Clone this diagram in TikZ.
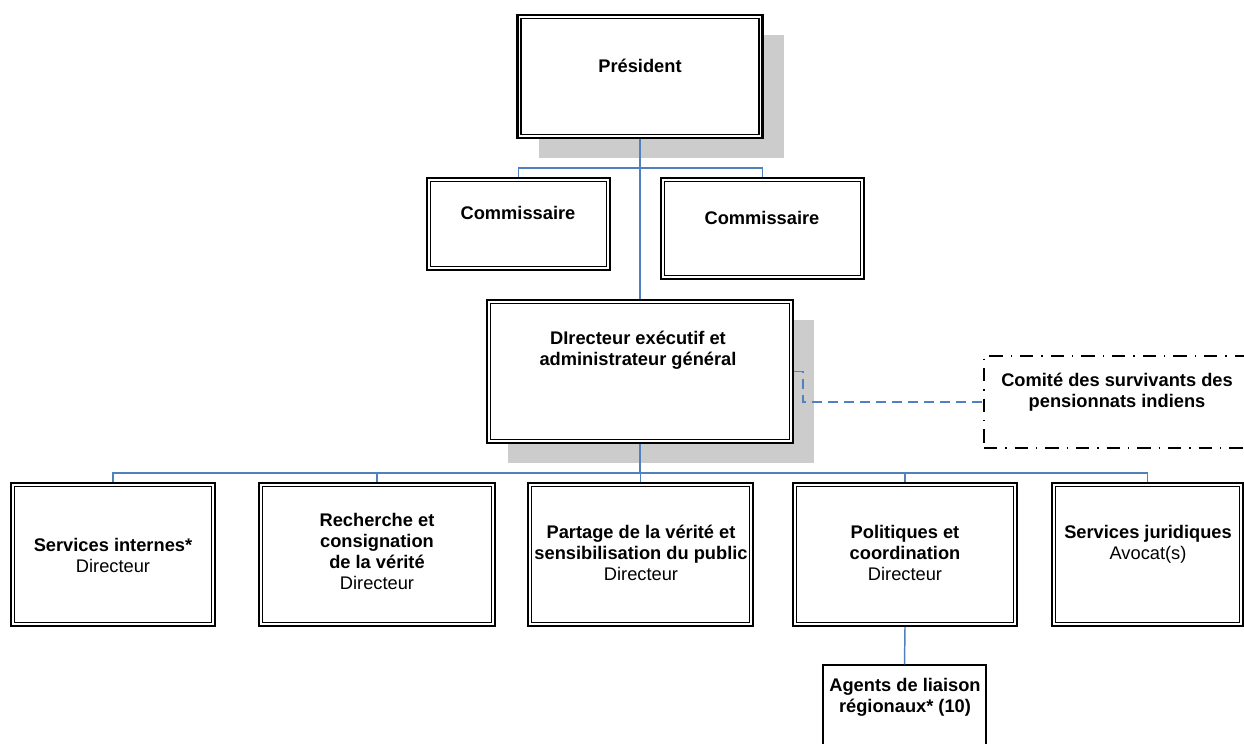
\documentclass[tikz,border=0pt]{standalone}
\usepackage{fontspec}
\setmainfont{Liberation Sans}
\definecolor{linkblue}{RGB}{79,129,189}
\definecolor{shade}{RGB}{204,204,204}
\begin{document}
\begin{tikzpicture}[x=0.75pt,y=-0.75pt,
  sz/.style 2 args={minimum width=#1*0.75pt, minimum height=#2*0.75pt},
  dbox/.style={draw=black, line width=1.6pt, fill=white, inner sep=0pt},
  innerline/.style={draw=black, line width=0.9pt},
  sbox/.style={draw=black, line width=0.9pt, fill=white, inner sep=0pt},
  ddbox/.style={draw=black, line width=0.8pt, inner sep=0pt, dash pattern=on 10pt off 6pt on 1pt off 6pt},
  shadowbox/.style={fill=shade, draw=none, inner sep=0pt},
  txt/.style={anchor=base, align=center, inner sep=0pt, font=\fontsize{13.7pt}{15.8pt}\selectfont},
  link/.style={draw=linkblue, line width=1.1pt},
  dlink/.style={draw=linkblue, line width=1.1pt, dash pattern=on 8pt off 4pt}
]
\clip (0,0) rectangle (1244,743);
\fill[white] (0,0) rectangle (1244,743);

% shadows
\node[shadowbox, sz={245}{123}] (presS) at (661,96.5) {};
\node[shadowbox, sz={306}{143}] (dirS) at (661,391.5) {};

\coordinate (bus1) at (640,168);
\coordinate (bus2) at (640,473);

% boxes
\node[dbox, sz={245}{123}] (pres) at (640,76.5) {};
\node[dbox, sz={183}{92}] (commL) at (518.5,224) {};
\node[dbox, sz={203}{101}] (commR) at (762.5,228.5) {};
\node[dbox, sz={306}{143}] (dir) at (640,371.5) {};
\node[ddbox, sz={270}{92}] (comite) at (1119,402) {};
\node[dbox, sz={204}{143}] (b1) at (113,554.5) {};
\node[dbox, sz={236}{143}] (b2) at (377,554.5) {};
\node[dbox, sz={225}{143}] (b3) at (640.5,554.5) {};
\node[dbox, sz={224}{143}] (b4) at (905,554.5) {};
\node[dbox, sz={191}{143}] (b5) at (1147.5,554.5) {};
\node[sbox, sz={163}{100}] (agents) at (904.5,715) {};

% inner lines of the double borders
\foreach \n in {pres,commL,commR,dir,b1,b2,b3,b4,b5}
  \draw[innerline] ([xshift=3.4pt,yshift=-3.4pt]\n.north west) rectangle ([xshift=-3.4pt,yshift=3.4pt]\n.south east);

% connectors
\draw[link] (pres.south) -- (dir.north);
\draw[link] (commL.north) |- (bus1) -| (commR.north);
\draw[link] (dir.south) -- (bus2);
\foreach \b in {b1,b2,b3,b4,b5} \draw[link] (\b.north) |- (bus2);
\draw[link] (b4.south) -- (agents.north);
\draw[dlink] (dir.east) -- ++(9,0) |- (comite.west);

% texts
\node[txt] (presT) at (640,72) {\bfseries Président};
\node[txt] (commLT) at (518,219.5) {\bfseries Commissaire};
\node[txt] (commRT) at (762,224.5) {\bfseries Commissaire};
\node[txt] (dirT) at (638,365.5) {\bfseries DIrecteur exécutif et\\\bfseries administrateur général};
\node[txt] (comiteT) at (1117,407.5) {\bfseries Comité des survivants des\\\bfseries pensionnats indiens};
\node[txt] (b1T) at (113,572.5) {\bfseries Services internes*\\Directeur};
\node[txt] (b2T) at (377,589.5) {\bfseries Recherche et\\\bfseries consignation\\\bfseries de la vérité\\Directeur};
\node[txt] (b3T) at (641,580.5) {\bfseries Partage de la vérité et\\\bfseries sensibilisation du public\\Directeur};
\node[txt] (b4T) at (905,580.5) {\bfseries Politiques et\\\bfseries coordination\\Directeur};
\node[txt] (b5T) at (1148,559.5) {\bfseries Services juridiques\\Avocat(s)};
\node[txt] (agentsT) at (905,712.5) {\bfseries Agents de liaison\\\bfseries régionaux* (10)};
\end{tikzpicture}
\end{document}
